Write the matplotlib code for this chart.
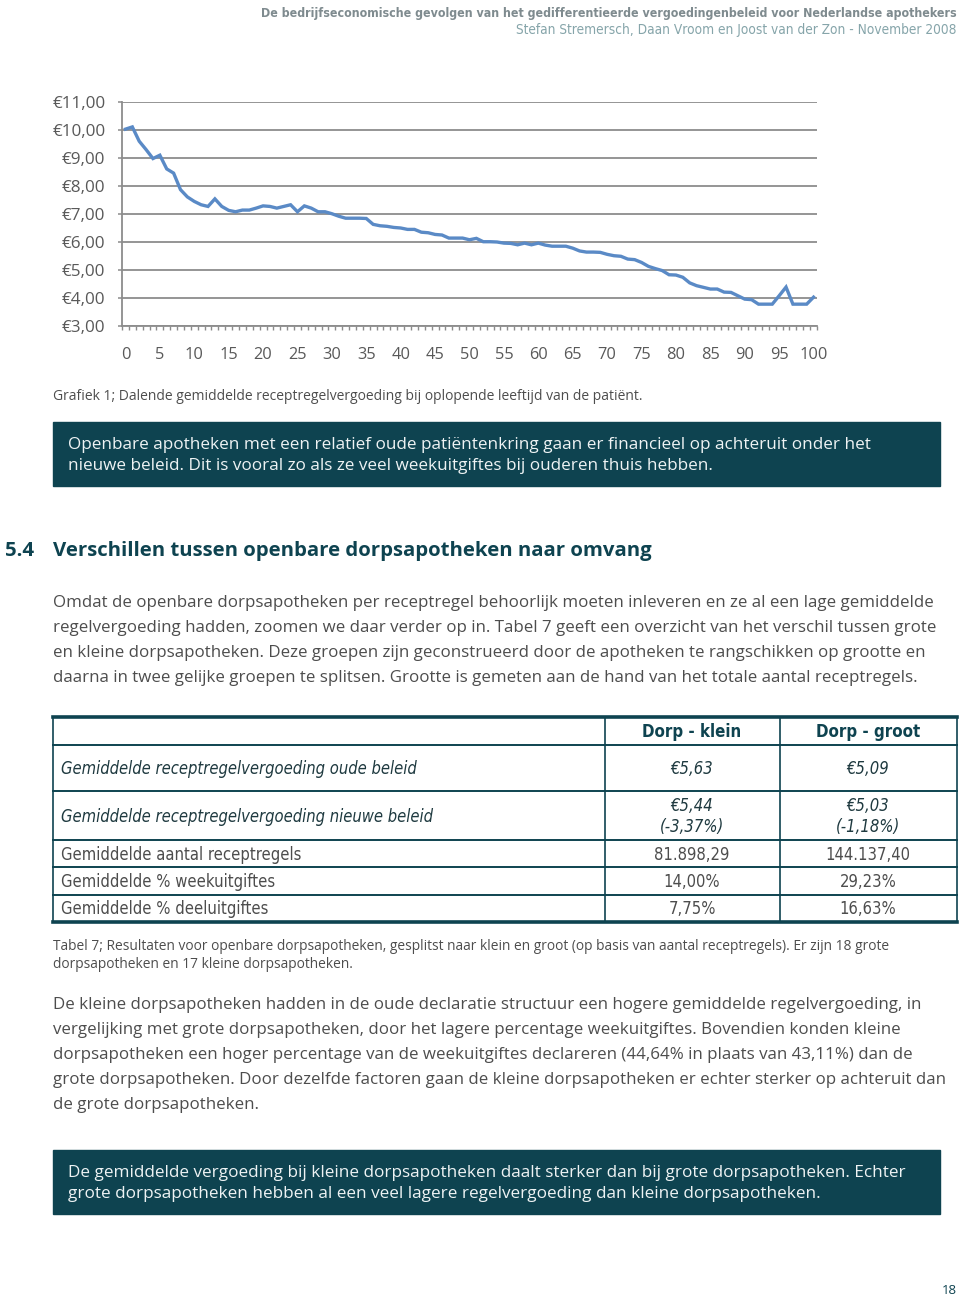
"""
Page 18: line chart of average prescription fee by patient age, plus text and table
"""
import matplotlib.pyplot as plt
from matplotlib.patches import Rectangle

plt.rcParams['font.family'] = ['Open Sans', 'DejaVu Sans']

# Chart data
leeftijd = list(range(0, 101))
vergoeding = [10.03, 10.11, 9.60, 9.30, 8.98, 9.10, 8.61, 8.46, 7.87, 7.61,
              7.45, 7.33, 7.27, 7.54, 7.27, 7.13, 7.08, 7.14, 7.14, 7.21,
              7.29, 7.27, 7.21, 7.27, 7.33, 7.08, 7.29, 7.21, 7.08, 7.08,
              7.01, 6.92, 6.85, 6.85, 6.85, 6.84, 6.63, 6.58, 6.56, 6.52,
              6.50, 6.45, 6.45, 6.35, 6.33, 6.27, 6.25, 6.14, 6.14, 6.14,
              6.08, 6.13, 6.01, 6.01, 6.00, 5.96, 5.95, 5.90, 5.96, 5.90,
              5.96, 5.89, 5.85, 5.85, 5.85, 5.78, 5.68, 5.64, 5.64, 5.63,
              5.56, 5.51, 5.49, 5.39, 5.37, 5.27, 5.13, 5.05, 4.98, 4.83,
              4.82, 4.74, 4.54, 4.44, 4.38, 4.32, 4.32, 4.21, 4.20, 4.08,
              3.96, 3.94, 3.78, 3.78, 3.78, 4.08, 4.39, 3.78, 3.78, 3.78,
              4.03]
y_ticks = [3, 4, 5, 6, 7, 8, 9, 10, 11]
y_labels = ['€%d,00' % v for v in y_ticks]
x_ticks = leeftijd[::5]

# Table data
tabel_kop = ['Dorp - klein', 'Dorp - groot']
tabel_rijen = ['Gemiddelde receptregelvergoeding oude beleid',
               'Gemiddelde receptregelvergoeding nieuwe beleid',
               'Gemiddelde aantal receptregels',
               'Gemiddelde % weekuitgiftes',
               'Gemiddelde % deeluitgiftes']
dorp_klein = ['€5,63', '€5,44\n(-3,37%)', '81.898,29', '14,00%', '7,75%']
dorp_groot = ['€5,09', '€5,03\n(-1,18%)', '144.137,40', '29,23%', '16,63%']

# Colours
teal = '#0e4350'
grijs_tekst = '#4d4d4d'
as_grijs = '#8c8c8c'

fig = plt.figure(figsize=(9.6, 13), dpi=100)

# Page layer in pixel coordinates
page = fig.add_axes([0, 0, 1, 1])
page.set_xlim(0, 960)
page.set_ylim(1300, 0)
page.axis('off')

cond = dict(family='DejaVu Sans', stretch='condensed')

# Header
page.text(957, 13, 'De bedrijfseconomische gevolgen van het gedifferentieerde vergoedingenbeleid voor Nederlandse apothekers',
          ha='right', va='center', fontsize=8.9, fontweight='bold', color='#7f8b8f', **cond)
page.text(957, 30, 'Stefan Stremersch, Daan Vroom en Joost van der Zon - November 2008',
          ha='right', va='center', fontsize=9.8, color='#86a5aa', **cond)

# Chart
ax = fig.add_axes([122/960, 1 - 326/1300, 695/960, 224/1300])
ax.plot(leeftijd, vergoeding, color='#5a8ac6', lw=2.4, solid_joinstyle='miter')
ax.set_xlim(-0.5, 100.5)
ax.set_ylim(3, 11)
ax.set_yticks(y_ticks)
ax.set_yticklabels(y_labels)
ax.set_xticks(x_ticks)
ax.set_xticks([i - 0.5 for i in range(0, 102)], minor=True)
ax.yaxis.grid(True, color=as_grijs, lw=1.3)
ax.set_axisbelow(True)
for side in ['top', 'right']:
    ax.spines[side].set_visible(False)
for side in ['left', 'bottom']:
    ax.spines[side].set_color(as_grijs)
    ax.spines[side].set_linewidth(1.3)
ax.tick_params(axis='y', length=3, color=as_grijs, width=1.1, pad=9,
               labelsize=12.3, labelcolor='#595959')
ax.tick_params(axis='x', which='major', length=0, pad=15,
               labelsize=11.8, labelcolor='#595959')
ax.tick_params(axis='x', which='minor', length=3, color=as_grijs, width=1)

page.text(53, 397, 'Grafiek 1; Dalende gemiddelde receptregelvergoeding bij oplopende leeftijd van de patiënt.',
          va='center', fontsize=10, color=grijs_tekst)

# Highlight box 1
page.add_patch(Rectangle((53, 422), 887, 64, color=teal))
page.text(68, 445, 'Openbare apotheken met een relatief oude patiëntenkring gaan er financieel op achteruit onder het',
          va='center', fontsize=12.3, color='#eef3f4')
page.text(68, 466, 'nieuwe beleid. Dit is vooral zo als ze veel weekuitgiftes bij ouderen thuis hebben.',
          va='center', fontsize=12.3, color='#eef3f4')

# Section heading
page.text(5, 551, '5.4', va='center', fontsize=14.7, fontweight='bold', color=teal)
page.text(53, 551, 'Verschillen tussen openbare dorpsapotheken naar omvang',
          va='center', fontsize=14.7, fontweight='bold', color=teal)

para1 = ['Omdat de openbare dorpsapotheken per receptregel behoorlijk moeten inleveren en ze al een lage gemiddelde',
         'regelvergoeding hadden, zoomen we daar verder op in. Tabel 7 geeft een overzicht van het verschil tussen grote',
         'en kleine dorpsapotheken. Deze groepen zijn geconstrueerd door de apotheken te rangschikken op grootte en',
         'daarna in twee gelijke groepen te splitsen. Grootte is gemeten aan de hand van het totale aantal receptregels.']
for i, line in enumerate(para1):
    page.text(53, 603 + 25 * i, line, va='center', fontsize=12.2, color=grijs_tekst)

# Table
rand = [717, 745, 791, 840, 867, 895, 922]
for y in rand[1:-1]:
    page.plot([53, 957], [y, y], color=teal, lw=1.4)
page.plot([53, 957], [717, 717], color=teal, lw=2.6)
page.plot([53, 957], [922, 922], color=teal, lw=2.6)
for x in [53, 605, 780, 957]:
    page.plot([x, x], [717, 922], color=teal, lw=1.2)

kol_x = [692, 868]
for x, kop in zip(kol_x, tabel_kop):
    page.text(x, 732, kop, ha='center', va='center', fontsize=12.1,
              fontweight='bold', color=teal, **cond)
for i, rij in enumerate(tabel_rijen):
    yc = (rand[i + 1] + rand[i + 2]) / 2 + 1
    stijl = 'italic' if i < 2 else 'normal'
    kleur = '#1f3a40' if i < 2 else grijs_tekst
    page.text(61, yc, rij, va='center', fontsize=11.9, style=stijl,
              color=kleur, **cond)
    for x, waarde in zip(kol_x, [dorp_klein[i], dorp_groot[i]]):
        page.text(x, yc, waarde, ha='center', va='center', fontsize=11.9,
                  style=stijl, color=kleur, linespacing=1.15, **cond)

page.text(53, 946, 'Tabel 7; Resultaten voor openbare dorpsapotheken, gesplitst naar klein en groot (op basis van aantal receptregels). Er zijn 18 grote',
          va='center', fontsize=9.9, color=grijs_tekst)
page.text(53, 964, 'dorpsapotheken en 17 kleine dorpsapotheken.',
          va='center', fontsize=9.9, color=grijs_tekst)

para2 = ['De kleine dorpsapotheken hadden in de oude declaratie structuur een hogere gemiddelde regelvergoeding, in',
         'vergelijking met grote dorpsapotheken, door het lagere percentage weekuitgiftes. Bovendien konden kleine',
         'dorpsapotheken een hoger percentage van de weekuitgiftes declareren (44,64% in plaats van 43,11%) dan de',
         'grote dorpsapotheken. Door dezelfde factoren gaan de kleine dorpsapotheken er echter sterker op achteruit dan',
         'de grote dorpsapotheken.']
for i, line in enumerate(para2):
    page.text(53, 1005 + 25 * i, line, va='center', fontsize=12.2, color=grijs_tekst)

# Highlight box 2
page.add_patch(Rectangle((53, 1150), 887, 64, color=teal))
page.text(68, 1173, 'De gemiddelde vergoeding bij kleine dorpsapotheken daalt sterker dan bij grote dorpsapotheken. Echter',
          va='center', fontsize=12.3, color='#eef3f4')
page.text(68, 1194, 'grote dorpsapotheken hebben al een veel lagere regelvergoeding dan kleine dorpsapotheken.',
          va='center', fontsize=12.3, color='#eef3f4')

page.text(957, 1291, '18', ha='right', va='center', fontsize=9.5, color=teal)

fig.savefig('out.png', dpi=100, facecolor='white')
